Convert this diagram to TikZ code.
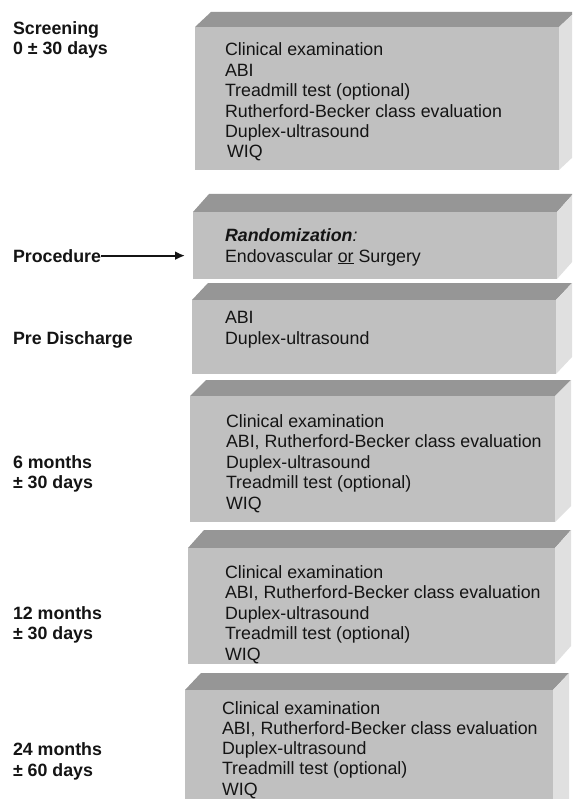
\documentclass[tikz,border=0pt]{standalone}
\usepackage{fontspec}
\setmainfont{Liberation Sans}
\usetikzlibrary{arrows.meta,calc}
\definecolor{frontc}{RGB}{192,192,192}
\definecolor{topc}{RGB}{150,150,150}
\definecolor{sidec}{RGB}{224,224,224}
\definecolor{inkc}{RGB}{20,20,20}
\tikzset{
  frontface/.style={fill=frontc, draw=none, inner sep=0pt, outer sep=0pt, anchor=north west},
  txt/.style={anchor=base west, inner sep=0pt, outer sep=0pt, text=inkc, font=\fontsize{17.8}{20.4}\selectfont},
  lbl/.style={txt, font=\fontsize{17.8}{20.4}\selectfont\bfseries},
  arr/.style={draw=inkc, line width=2pt, -{Latex[length=10pt,width=9pt]}}
}
% #1 name, #2 left, #3 right, #4 bevel top, #5 front top, #6 bottom
\newcommand\mybox[6]{%
  \fill[topc] (#2,#5) -- (#2+16,#4) -- (#3+16,#4) -- (#3,#5) -- cycle;
  \fill[sidec] (#3,#5) -- (#3+16,#4) -- (#3+16,#6-#5+#4) -- (#3,#6) -- cycle;
  \node[frontface, minimum width=#3pt-#2pt, minimum height=#6pt-#5pt] (#1) at (#2,#5) {};
}
\begin{document}
\begin{tikzpicture}[x=1pt,y=-1pt]
\path[use as bounding box] (0,0) rectangle (572,799);
\fill[white] (0,0) rectangle (572,799);
\clip (0,0) rectangle (572,799);

\mybox{b1}{195}{559}{12}{27}{170}
\mybox{b2}{193}{557}{194}{212}{279}
\mybox{b3}{192}{556}{283}{300}{374}
\mybox{b4}{190}{555}{380}{396}{522}
\mybox{b5}{188}{555}{530}{548}{664}
\mybox{b6}{185}{553}{673}{690}{840}

% box texts
\foreach \t [count=\i from 0] in {Clinical examination, ABI, Treadmill test (optional), Rutherford-Becker class evaluation, Duplex-ultrasound}
  \node[txt] (b1t\i) at (225,56+20.4*\i) {\t};
\node[txt] (b1t5) at (227,158) {WIQ};

\node[txt] (b2t0) at (225,242) {\textbf{\textit{Randomization}}\textit{:}};
\node[txt] (b2t1) at (225,262) {Endovascular \underline{or} Surgery};

\node[txt] (b3t0) at (225,323) {ABI};
\node[txt] (b3t1) at (225,344) {Duplex-ultrasound};

\foreach \t [count=\i from 0] in {Clinical examination, {ABI, Rutherford-Becker class evaluation}, Duplex-ultrasound, Treadmill test (optional), WIQ}
  \node[txt] (b4t\i) at (226,427+20.5*\i) {\t};
\foreach \t [count=\i from 0] in {Clinical examination, {ABI, Rutherford-Becker class evaluation}, Duplex-ultrasound, Treadmill test (optional), WIQ}
  \node[txt] (b5t\i) at (225,578+20.5*\i) {\t};
\foreach \t [count=\i from 0] in {Clinical examination, {ABI, Rutherford-Becker class evaluation}, Duplex-ultrasound, Treadmill test (optional), WIQ}
  \node[txt] (b6t\i) at (222,714+20.3*\i) {\t};

% left labels
\node[lbl] (scr1) at (13,35) {Screening};
\node[lbl] (scr2) at (13,55) {0 ± 30 days};
\node[lbl] (proc) at (13,262) {Procedure};
\node[lbl] (pre) at (13,344) {Pre Discharge};
\node[lbl] (m6a) at (13,468) {6 months};
\node[lbl] (m6b) at (13,488) {± 30 days};
\node[lbl] (m12a) at (13,619) {12 months};
\node[lbl] (m12b) at (13,639) {± 30 days};
\node[lbl] (m24a) at (13,755) {24 months};
\node[lbl] (m24b) at (13,776) {± 60 days};

\draw[arr, shorten >=8pt] (proc.east) -- (proc.east -| b2.west);
\end{tikzpicture}
\end{document}
